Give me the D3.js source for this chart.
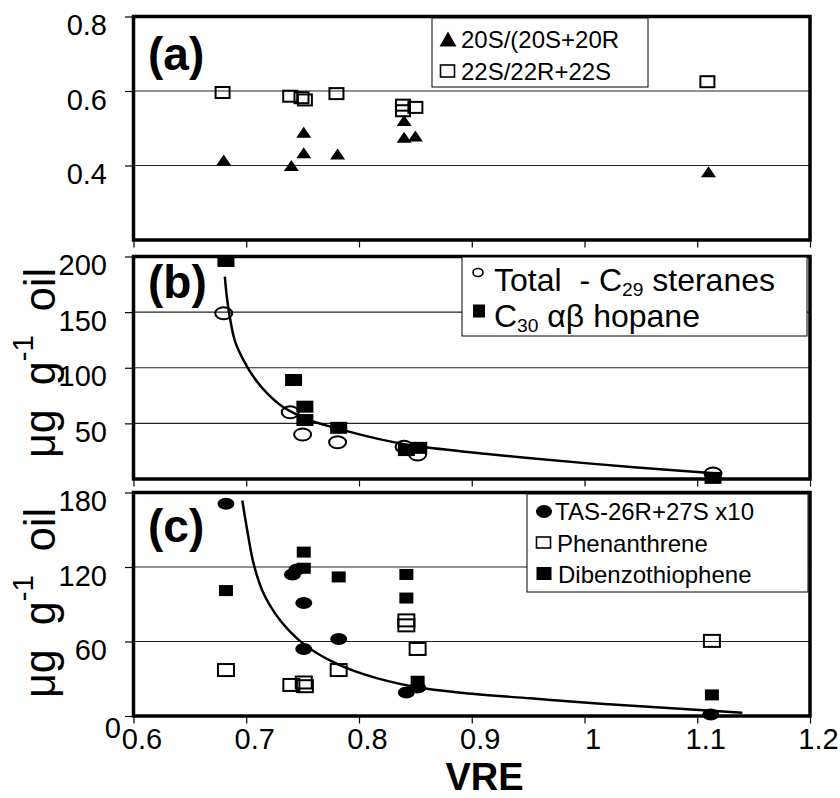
<!DOCTYPE html>
<html><head><meta charset="utf-8">
<script src="https://cdn.jsdelivr.net/npm/d3@7"></script>
<style>
body{margin:0;background:#fff}
svg{display:block;font-family:"Liberation Sans",Arial,sans-serif}
</style>
</head><body>
<svg id="chart" width="840" height="798"></svg>
<script>
// ---------- DATA ----------
const xTicks = [0.6, 0.7, 0.8, 0.9, 1.0, 1.1, 1.2];
const xTickLabels = ["0.6", "0.7", "0.8", "0.9", "1", "1.1", "1.2"];

// Panel (a)
const aTicks = [0.4, 0.6, 0.8];
const aTickLabels = ["0.4", "0.6", "0.8"];
const aGrid = [0.4, 0.6];
const steraneRatio = [[0.680,0.415],[0.740,0.400],[0.751,0.489],[0.751,0.434],[0.781,0.431],[0.840,0.521],[0.840,0.476],[0.850,0.479],[1.110,0.383]];
const hopaneRatio = [[0.679,0.596],[0.739,0.586],[0.749,0.582],[0.752,0.576],[0.780,0.593],[0.839,0.562],[0.839,0.547],[0.850,0.556],[1.109,0.625]];

// Panel (b)
const bTicks = [50, 100, 150, 200];
const bTickLabels = ["50", "100", "150", "200"];
const bGrid = [50, 100, 150];
const c29Steranes = [[0.680,149],[0.739,60],[0.750,40],[0.781,33],[0.840,29],[0.852,22],[1.114,5]];
const c30Hopane = [[0.682,196],[0.742,89],[0.752,65],[0.752,53],[0.782,46],[0.842,26],[0.853,28],[1.114,1]];
const bTrend = [[0.681,182],[0.683,162],[0.6855,145],[0.690,124],[0.698,106],[0.707,91],[0.719,76.5],[0.733,64.5],[0.757,52.7],[0.787,43.7],[0.816,36.3],[0.846,30.4],[0.890,25],[0.955,18.5],[1.044,10.5],[1.118,5]];

// Panel (c)
const cTicks = [0, 60, 120, 180];
const cTickLabels = ["0", "60", "120", "180"];
const cGrid = [60, 120];
const tas = [[0.682,171],[0.741,114],[0.745,118],[0.751,91],[0.751,54],[0.782,62],[0.842,19],[0.852,23],[1.112,1.3]];
const phenanthrene = [[0.682,37],[0.740,25],[0.751,27],[0.752,24],[0.782,37],[0.842,77],[0.842,73],[0.852,54],[1.113,60.5]];
const dibenzothiophene = [[0.682,101],[0.751,132],[0.751,119],[0.782,112],[0.842,114],[0.842,95],[0.852,28],[1.113,17]];
const cTrend = [[0.6965,173.5],[0.701,149],[0.7067,122],[0.7157,98],[0.7304,76.7],[0.751,57.9],[0.775,44.4],[0.804,33.7],[0.849,23.5],[0.893,18.5],[0.952,14.2],[1.0145,9.9],[1.140,2.7]];

// ---------- DRAW ----------
const svg = d3.select("#chart");
const x = d3.scaleLinear().domain([0.6, 1.2]).range([133.5, 810]);
const FONT = "Liberation Sans, Arial, sans-serif";

function panel(cfg) {
  const y = d3.scaleLinear().domain(cfg.domain).range(cfg.range);
  const g = svg.append("g");
  const top = cfg.range[1], bottom = cfg.range[0];
  g.selectAll(".grid").data(cfg.grid).join("line")
    .attr("x1", x(0.6)).attr("x2", x(1.2))
    .attr("y1", d => y(d)).attr("y2", d => y(d))
    .attr("stroke", "#222").attr("stroke-width", 1.2);
  const ax = d3.axisLeft(y).tickValues(cfg.ticks).tickSize(7)
    .tickFormat((d, i) => cfg.tickLabels[i]);
  const ag = g.append("g").attr("transform", `translate(${x(0.6) - 1.5},0)`).call(ax);
  ag.attr("font-size", 29).attr("font-family", FONT);
  ag.select(".domain").remove();
  ag.selectAll(".tick line").attr("stroke", "#000").attr("stroke-width", 1.2);
  ag.selectAll(".tick text").attr("font-size", 29).attr("fill", "#000")
    .attr("x", -25).attr("dy", "18px");
  if (cfg.zeroShift) {
    ag.selectAll(".tick text").filter(d => d === 0).attr("x", -11).attr("dy", "21px");
  }
  const bx = d3.axisBottom(x).tickValues(xTicks).tickSize(6)
    .tickFormat((d, i) => cfg.showX ? xTickLabels[i] : "");
  const bg = g.append("g").attr("transform", `translate(0,${bottom + 1.5})`).call(bx);
  bg.attr("font-size", 29).attr("font-family", FONT);
  bg.select(".domain").remove();
  bg.selectAll(".tick line").attr("stroke", "#000").attr("stroke-width", 1.2);
  bg.selectAll(".tick text").attr("font-size", 29).attr("fill", "#000")
    .attr("y", 0).attr("dy", "31px").attr("dx", 8);
  g.append("rect").attr("x", x(0.6)).attr("y", top).attr("width", x(1.2) - x(0.6)).attr("height", bottom - top)
    .attr("fill", "none").attr("stroke", "#000").attr("stroke-width", 3.5);
  g.append("text").attr("x", 148).attr("y", cfg.labelY).attr("font-size", 46).attr("font-weight", "bold")
    .text(cfg.label);
  return {g, y};
}

function tri(w, h) { return `M0,${-h/2}L${w/2},${h/2}L${-w/2},${h/2}Z`; }

function drawSeries(g, y, data, kind, w, h, fill) {
  const sel = g.append("g");
  data.forEach(d => {
    const cx = x(d[0]), cy = y(d[1]);
    if (kind === "tri") {
      sel.append("path").attr("d", tri(w, h)).attr("transform", `translate(${cx},${cy})`).attr("fill", "#000");
    } else if (kind === "rect") {
      sel.append("rect").attr("x", cx - w/2).attr("y", cy - h/2).attr("width", w).attr("height", h)
        .attr("fill", fill ? "#000" : "none").attr("stroke", "#000").attr("stroke-width", fill ? 0 : 2);
    } else {
      sel.append("ellipse").attr("cx", cx).attr("cy", cy).attr("rx", w/2).attr("ry", h/2)
        .attr("fill", fill ? "#000" : "none").attr("stroke", "#000").attr("stroke-width", fill ? 0 : 2);
    }
  });
}

function trend(g, y, data) {
  const line = d3.line().x(d => x(d[0])).y(d => y(d[1])).curve(d3.curveCatmullRom.alpha(0.5));
  g.append("path").attr("d", line(data)).attr("fill", "none").attr("stroke", "#000").attr("stroke-width", 2.5);
}

function legend(g, box, items) {
  g.append("rect").attr("x", box[0]).attr("y", box[1]).attr("width", box[2]).attr("height", box[3])
    .attr("fill", "#fff").attr("stroke", "#000").attr("stroke-width", 1);
  items.forEach(it => {
    const m = it.marker;
    if (m.kind === "tri") {
      g.append("path").attr("d", tri(m.w, m.h)).attr("transform", `translate(${m.x},${m.y})`).attr("fill", "#000");
    } else if (m.kind === "rect") {
      g.append("rect").attr("x", m.x - m.w/2).attr("y", m.y - m.h/2).attr("width", m.w).attr("height", m.h)
        .attr("fill", m.fill ? "#000" : "none").attr("stroke", "#000").attr("stroke-width", m.fill ? 0 : 1.6);
    } else {
      g.append("ellipse").attr("cx", m.x).attr("cy", m.y).attr("rx", m.w/2).attr("ry", m.h/2)
        .attr("fill", m.fill ? "#000" : "none").attr("stroke", "#000").attr("stroke-width", m.fill ? 0 : 1.6);
    }
    const t = g.append("text").attr("x", it.tx).attr("y", it.ty).attr("font-size", it.size).style("white-space", "pre");
    it.parts.forEach(p => {
      const ts = t.append("tspan").text(p.t);
      if (p.sub) ts.attr("font-size", it.size * 0.6).attr("dy", 5);
      else if (p.after) ts.attr("dy", -5);
    });
  });
}

// Panel (a)
const A = panel({domain: [0.2, 0.8], range: [240, 16.5], ticks: aTicks, tickLabels: aTickLabels, grid: aGrid, label: "(a)", labelY: 70});
drawSeries(A.g, A.y, hopaneRatio, "rect", 14, 11, false);
drawSeries(A.g, A.y, steraneRatio, "tri", 15, 11, true);
legend(A.g, [432, 18, 216, 69], [
  {marker: {kind: "tri", x: 448, y: 39, w: 17, h: 15}, tx: 461, ty: 48, size: 24, parts: [{t: "20S/(20S+20R"}]},
  {marker: {kind: "rect", x: 447.5, y: 71, w: 14, h: 12, fill: false}, tx: 461, ty: 80, size: 24, parts: [{t: "22S/22R+22S"}]}
]);

// Panel (b)
const B = panel({domain: [0, 200], range: [479, 256.5], ticks: bTicks, tickLabels: bTickLabels, grid: bGrid, label: "(b)", labelY: 298});
drawSeries(B.g, B.y, c29Steranes, "ellipse", 17, 12, false);
drawSeries(B.g, B.y, c30Hopane, "rect", 17, 12, true);
trend(B.g, B.y, bTrend);
legend(B.g, [462, 257, 345, 79], [
  {marker: {kind: "ellipse", x: 478, y: 272.5, w: 10, h: 8, fill: false}, tx: 494, ty: 291, size: 32,
   parts: [{t: "Total  - C"}, {t: "29", sub: true}, {t: " steranes", after: true}]},
  {marker: {kind: "rect", x: 479, y: 311, w: 12, h: 13, fill: true}, tx: 494, ty: 327, size: 32,
   parts: [{t: "C"}, {t: "30", sub: true}, {t: " αβ hopane", after: true}]}
]);

// Panel (c)
const C = panel({domain: [0, 180], range: [716, 492.5], ticks: cTicks, tickLabels: cTickLabels, grid: cGrid, label: "(c)", labelY: 542, showX: true, zeroShift: true});
drawSeries(C.g, C.y, tas, "ellipse", 17, 12, true);
drawSeries(C.g, C.y, phenanthrene, "rect", 16, 12, false);
drawSeries(C.g, C.y, dibenzothiophene, "rect", 14, 11, true);
trend(C.g, C.y, cTrend);
legend(C.g, [527, 494, 281, 98], [
  {marker: {kind: "ellipse", x: 544, y: 511.5, w: 16, h: 13, fill: true}, tx: 555, ty: 520, size: 24, parts: [{t: "TAS-26R+27S x10"}]},
  {marker: {kind: "rect", x: 543.5, y: 542.5, w: 14, h: 11, fill: false}, tx: 557, ty: 552, size: 24, parts: [{t: "Phenanthrene"}]},
  {marker: {kind: "rect", x: 544, y: 573.5, w: 15, h: 13, fill: true}, tx: 558, ty: 583, size: 24, parts: [{t: "Dibenzothiophene"}]}
]);

// Y titles
[458, 698].forEach(yb => {
  const t = svg.append("text").attr("transform", `translate(55,${yb}) rotate(-90)`)
    .attr("font-size", 44).style("white-space", "pre")
    .attr("textLength", 190).attr("lengthAdjust", "spacingAndGlyphs");
  t.append("tspan").text("μg  g");
  t.append("tspan").attr("font-size", 30).attr("dy", -22).text("-1");
  t.append("tspan").attr("dy", 22).text("  oil");
});

// X title
svg.append("text").attr("x", 484.5).attr("y", 789.5).attr("text-anchor", "middle")
  .attr("font-size", 38).attr("font-weight", "bold").text("VRE");
</script>
</body></html>
